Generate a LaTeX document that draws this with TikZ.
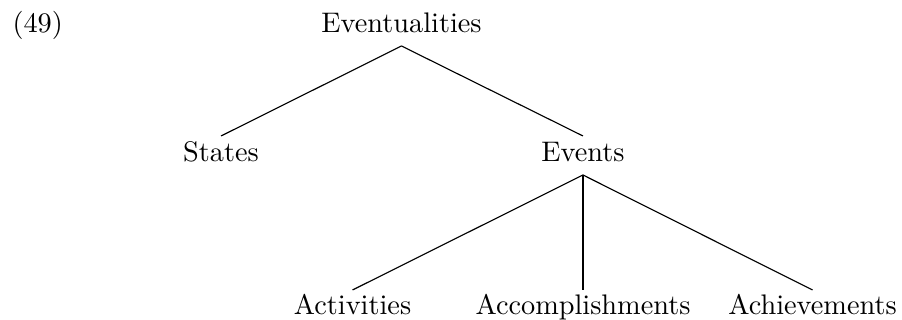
\documentclass[tikz,border=0pt]{standalone}
\usetikzlibrary{calc}
\begin{document}
\begin{tikzpicture}[x=0.3533pt,y=-0.3533pt,
  lbl/.style={anchor=base,inner sep=0pt,font=\normalsize},
  edge/.style={line width=0.4pt}]
\useasboundingbox (0,0) rectangle (902,320);
% example number
\node[lbl,anchor=base west] (num) at (12,33) {(49)};
% tree nodes
\node[lbl] (eve) at (401.5,33) {Eventualities};
\node[lbl] (sta) at (221,162) {States};
\node[lbl] (evt) at (583,162) {Events};
\node[lbl] (act) at (352.5,315) {Activities};
\node[lbl] (acc) at (583,315) {Accomplishments};
\node[lbl] (ach) at (812.5,315) {Achievements};
% branches
\draw[edge] ($(eve.base)+(0,13)$) -- ($(sta.base)+(0,-26)$);
\draw[edge] ($(eve.base)+(0,13)$) -- ($(evt.base)+(0,-26)$);
\draw[edge] ($(evt.base)+(0,13)$) -- ($(act.base)+(0,-25)$);
\draw[edge] ($(evt.base)+(0,13)$) -- ($(acc.base)+(0,-25)$);
\draw[edge] ($(evt.base)+(0,13)$) -- ($(ach.base)+(0,-25)$);
\end{tikzpicture}
\end{document}
